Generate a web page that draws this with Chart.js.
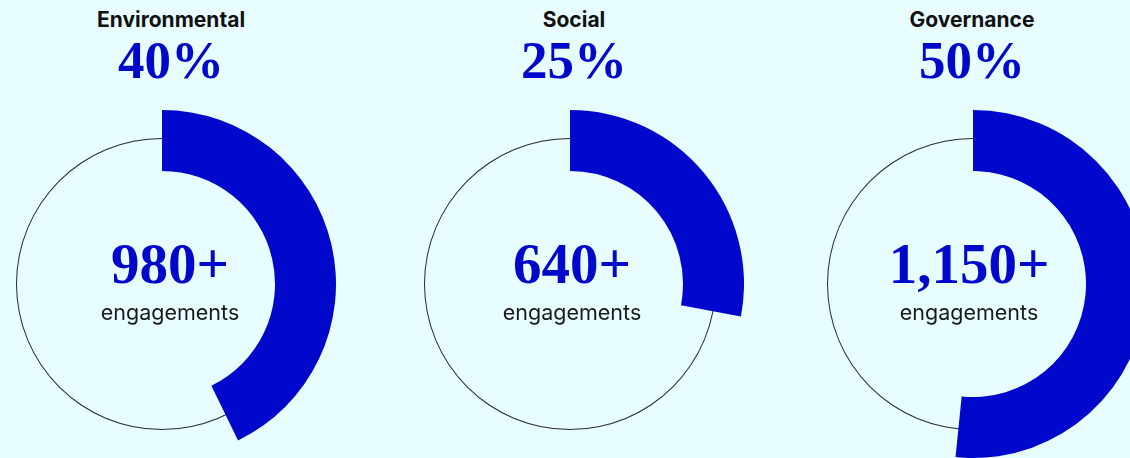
<!DOCTYPE html>
<html>
<head>
<meta charset="utf-8">
<script src="https://cdn.jsdelivr.net/npm/chart.js@4.4.1/dist/chart.umd.min.js"></script>
<style>
  html, body { margin: 0; padding: 0; }
  body { width: 1130px; height: 458px; overflow: hidden; position: relative; background: #e8fdff; }
  canvas { position: absolute; }
  .txt { position: absolute; width: 320px; margin-left: -160px; text-align: center; line-height: 1; white-space: nowrap; }
  .title { font: 700 21px Inter, sans-serif; color: #111; top: 7px; }
  .pct   { font: 700 53px "Liberation Serif", serif; color: #0008cc; top: 30px; }
  .count { font: 700 57px "Liberation Serif", serif; color: #0008cc; top: 231px; }
  .unit  { font: 400 21.5px Inter, sans-serif; color: #1a1a1a; top: 299px; }
</style>
</head>
<body>
<script>
// ── DATA ─────────────────────────────────────────────
const categories = ['Environmental', 'Social', 'Governance'];
const sharePct   = [40, 25, 50];            // headline percentages
const arcShare   = [42.8, 28.0, 51.6];      // filled part of the ring as drawn (%)
const counts     = ['980+', '640+', '1,150+'];
const unitLabel  = 'engagements';

// ── LAYOUT ───────────────────────────────────────────
const BLUE = '#0008cc';
const ringCx  = [162, 570, 973];   // circle centres
const ringCy  = 284;
const titleCx = [171, 574, 972];   // heading column centres
const countCx = [170, 572, 969];   // centre-label centres
const OUTER = 174, INNER = 113, LINE_R = 146;

const noUi = { legend: { display: false }, tooltip: { enabled: false } };

function addCanvas(size, left, top) {
  const cv = document.createElement('canvas');
  cv.width = size; cv.height = size;
  cv.style.left = left + 'px';
  cv.style.top = top + 'px';
  document.body.appendChild(cv);
  return cv;
}

function addText(cls, text, cx) {
  const d = document.createElement('div');
  d.className = 'txt ' + cls;
  d.textContent = text;
  d.style.left = cx + 'px';
  document.body.appendChild(d);
}

categories.forEach((cat, i) => {
  // thin outline circle (1px ring), sits under the blue arc
  new Chart(addCanvas(LINE_R * 2, ringCx[i] - LINE_R, ringCy - LINE_R), {
    type: 'doughnut',
    data: {
      labels: [cat],
      datasets: [{ data: [100], backgroundColor: ['#2a2a2a'], borderWidth: 0, hoverOffset: 0 }]
    },
    options: { responsive: false, animation: false, events: [], cutout: LINE_R - 1, plugins: noUi }
  });

  // thick blue arc, clockwise from 12 o'clock
  new Chart(addCanvas(OUTER * 2, ringCx[i] - OUTER, ringCy - OUTER), {
    type: 'doughnut',
    data: {
      labels: [cat, 'rest'],
      datasets: [{
        data: [arcShare[i], 100 - arcShare[i]],
        backgroundColor: [BLUE, 'rgba(0,0,0,0)'],
        borderWidth: 0,
        hoverOffset: 0
      }]
    },
    options: { responsive: false, animation: false, events: [], cutout: INNER, plugins: noUi }
  });

  addText('title', cat, titleCx[i]);
  addText('pct', sharePct[i] + '%', titleCx[i]);
  addText('count', counts[i], countCx[i]);
  addText('unit', unitLabel, countCx[i]);
});
</script>
</body>
</html>
